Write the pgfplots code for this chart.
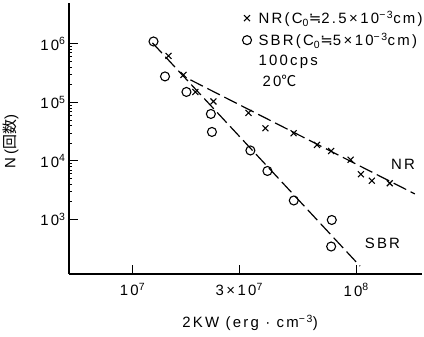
\documentclass[border=0pt]{standalone}
\usepackage{pgfplots}
\pgfplotsset{compat=1.18}
\usepackage{fontspec}
\setmainfont{Liberation Sans}[LetterSpace=15]
\newfontfamily\cjk{Noto Sans CJK JP}
\newfontfamily\dejavu{DejaVu Sans}
\pgfplotstableread{
x y
1.241e7 1.10e6
1.397e7 2.78e5
1.742e7 1.51e5
2.24e7 6.35e4
2.265e7 3.13e4
3.365e7 1.51e4
4.01e7 6.74e3
5.26e7 2.11e3
7.78e7 980
7.73e7 345
}\sbr
\pgfplotstableread{
x y
1.449e7 6.24e5
1.69e7 2.95e5
1.91e7 1.51e5
2.30e7 1.04e5
3.30e7 6.62e4
3.93e7 3.62e4
5.25e7 2.98e4
6.68e7 1.88e4
7.73e7 1.48e4
9.44e7 1.05e4
1.05e8 5.93e3
1.175e8 4.60e3
1.413e8 4.16e3
}\nr
\begin{document}
\begin{tikzpicture}[font=\fontsize{15}{18}\selectfont]
\useasboundingbox (-69bp,-63bp) rectangle (355bp,274bp);
\begin{axis}[
  scale only axis, width=353bp, height=271bp,
  xmode=log, ymode=log,
  xmin=5.2e6, xmax=1.97e8, ymin=117, ymax=5e6,
  axis lines=left, axis line style={line width=1.3pt, -},
  xtick={1e7,3e7,1e8},
  xticklabels={10\textsuperscript{7}, 3\,×\,10\textsuperscript{7}, 10\textsuperscript{8}},
  ytick={1e3,1e4,1e5,1e6},
  yticklabels={10\textsuperscript{3},10\textsuperscript{4},10\textsuperscript{5},10\textsuperscript{6}},
  minor xtick={}, minor ytick={},
  tick align=inside, major tick length=9bp,
  tick style={line width=1pt, black},
  xticklabel style={yshift=-6bp},
  every axis x label/.style={at={(axis description cs:0.513,-0.181)}, anchor=center},
  xlabel={2KW (erg · cm\textsuperscript{−3})},
  legend cell align=left,
  legend style={draw=none, fill=none, at={(axis description cs:1.008,0.978)}, anchor=north east,
    inner sep=0pt, row sep=4bp},
  clip=false,
]
\addplot[only marks, mark=x, mark size=4.2bp, line width=1.1pt, black] table {\nr};
\addlegendentry{\hspace{5bp}NR(C\textsubscript{0}{\dejavu ≒}2.5\,×\,10\textsuperscript{−3}cm)}
\addplot[only marks, mark=o, mark size=4.5bp, line width=1.1pt, black] table {\sbr};
\addlegendentry{\hspace{5bp}SBR(C\textsubscript{0}{\dejavu ≒}5\,×\,10\textsuperscript{−3}cm)}
\addlegendimage{empty legend}
\addlegendentry{\hspace{5bp}100cps}
\addlegendimage{empty legend}
\addlegendentry{\hspace{9bp}20{\cjk ℃}}
\addplot[forget plot, black, line width=1.2pt, dash pattern=on 14bp off 5bp] coordinates {(1.815e7,2.43e5) (1.83e8,2.73e3)};
\addplot[forget plot, black, line width=1.2pt, dash pattern=on 14bp off 5bp] coordinates {(1.228e7,1.04e6) (1.04e8,160)};
\node[anchor=center] at (axis cs:1.62e8,8.9e3) {NR};
\node[anchor=center] at (axis cs:1.31e8,396) {SBR};
\node[anchor=center, rotate=90] at (axis cs:2.85e6,2.15e4) {N\,({\cjk 回数})};
\end{axis}
\end{tikzpicture}
\end{document}
